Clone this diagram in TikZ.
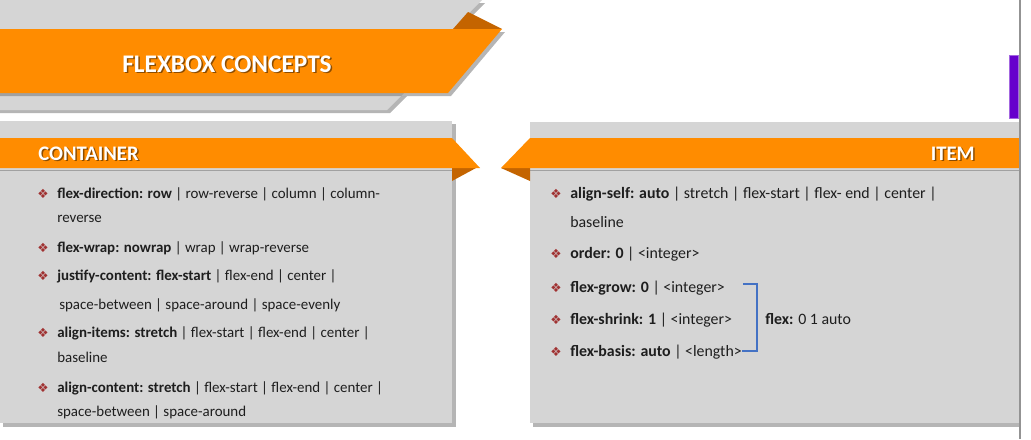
\documentclass[tikz,border=0pt]{standalone}
\usepackage{fontspec}
\setmainfont{Carlito}
\newfontfamily\symfont{DejaVu Sans}
\usepackage{xcolor}
\usepackage{tikz}
\usetikzlibrary{arrows}

\definecolor{ribbon}{RGB}{255,140,0}
\definecolor{ribbonfold}{RGB}{196,100,0}
\definecolor{panel}{RGB}{213,213,213}
\definecolor{shade}{RGB}{120,120,120}
\definecolor{ink}{RGB}{30,30,30}
\definecolor{diamond}{RGB}{160,50,50}
\definecolor{bracket}{RGB}{68,114,196}
\definecolor{violet}{RGB}{102,0,204}

\begin{document}
\begin{tikzpicture}[x=0.75pt,y=0.75pt,yscale=-1,xscale=1,
   body/.style={anchor=base west,inner sep=0pt,text=ink,font=\fontsize{11.2}{13}\selectfont},
   itembody/.style={body,font=\fontsize{11.9}{14}\selectfont},
   bullet/.style={anchor=base,inner sep=0pt,text=diamond,font=\symfont\fontsize{9.5}{11}\selectfont},
   head/.style={inner sep=0pt,text=white,font=\bfseries\fontsize{15.5}{18}\selectfont},
   headshade/.style={inner sep=0pt,text=black,opacity=0.45,font=\bfseries\fontsize{15.5}{18}\selectfont},
   shadow/.style={fill=shade,opacity=0.55,draw=none}]
   \useasboundingbox (0,0) rectangle (1031,439);

   %Shape: back strips of the title
   \fill [shadow] (0,3) -- (485,3) -- (456,32) -- (0,32) -- cycle ;
   \fill [panel] (0,0) -- (482,0) -- (453,29) -- (0,29) -- cycle ;
   \fill [shadow] (0,96) -- (407,96) -- (390,113) -- (0,113) -- cycle ;
   \fill [panel] (0,93) -- (404,93) -- (387,110) -- (0,110) -- cycle ;
   %Shape: title ribbon
   \fill [ribbonfold] (453,29) -- (468,12) -- (502,29) -- cycle ;
   \fill [shadow] (0,32) -- (505,32) -- (451,96) -- (0,96) -- cycle ;
   \fill [ribbon] (0,29) -- (502,29) -- (448,93) -- (0,93) -- cycle ;

   % Text Node
   \node [headshade,font=\bfseries\fontsize{19}{22}\selectfont,anchor=base] at (228.5,73.5) {FLEXBOX CONCEPTS};
   \node (title) [head,font=\bfseries\fontsize{19}{22}\selectfont,anchor=base] at (227,72) {FLEXBOX CONCEPTS};

   %Shape: container panel
   \fill [shadow] (3,124) rectangle (456,427) ;
   \fill [panel] (0,121) rectangle (452,423) ;
   \fill [ribbonfold] (452,168) -- (476,168) -- (452,181) -- cycle ;
   \fill [shadow] (0,170) rectangle (452,171) ;
   \fill [ribbon] (0,138) -- (452,138) -- (480,168) -- (0,168) -- cycle ;

   %Shape: item panel
   \fill [shadow] (533,125) rectangle (1019,427) ;
   \fill [panel] (530,122) rectangle (1019,423) ;
   \fill [ribbonfold] (501,168) -- (530,168) -- (530,181) -- cycle ;
   \fill [shadow] (530,170) rectangle (1019,171) ;
   \fill [ribbon] (530,138) -- (1019,138) -- (1019,168) -- (501,168) -- cycle ;

   %Straight Lines: frame edge and marker
   \draw [color=shade!80,line width=1.5] (1019.5,0) -- (1019.5,439) ;
   \draw [fill=violet,draw=violet!60,line width=0.75] (1009,55) rectangle (1018.5,118) ;

   % Text Node
   \node [headshade,anchor=base west] at (39.5,161.5) {CONTAINER};
   \node (cont) [head,anchor=base west] at (38,160) {CONTAINER};
   \node [headshade,anchor=base east] at (976.5,161.5) {ITEM};
   \node (item) [head,anchor=base east] at (975,160) {ITEM};

   % Bullets
   \foreach \y [count=\i] in {198,252,280,337,392}
      \node (lb\i) [bullet] at (43,\y) {❖};
   \foreach \y [count=\i] in {198,258,292,324,356}
      \node (rb\i) [bullet] at (556,\y) {❖};

   % Text Node
   \node (cdir) [body] at (57,198) {\textbf{flex-direction: row} | row-reverse | column | column-};
   \node (cdirb) [body] at (57,222) {reverse};
   \node (cwrap) [body] at (57,252) {\textbf{flex-wrap: nowrap} | wrap | wrap-reverse};
   \node (cjust) [body] at (57,280) {\textbf{justify-content: flex-start} | flex-end | center |};
   \node (cjustb) [body] at (59,309) {space-between | space-around | space-evenly};
   \node (citems) [body] at (57,337) {\textbf{align-items: stretch} | flex-start | flex-end | center |};
   \node (citemsb) [body] at (57,362) {baseline};
   \node (ccont) [body] at (57,392) {\textbf{align-content: stretch} | flex-start | flex-end | center |};
   \node (ccontb) [body] at (57,416) {space-between | space-around};

   % Text Node
   \node (ialign) [itembody] at (570,198) {\textbf{align-self: auto} | stretch | flex-start | flex- end | center |};
   \node (ialignb) [itembody] at (570,227) {baseline};
   \node (iorder) [itembody] at (570,258) {\textbf{order: 0} | <integer>};
   \node (igrow) [itembody] at (570,292) {\textbf{flex-grow: 0} | <integer>};
   \node (ishrink) [itembody] at (570,324) {\textbf{flex-shrink: 1} | <integer>};
   \node (ibasis) [itembody] at (570,356) {\textbf{flex-basis: auto} | <length>};
   \node (iflex) [itembody] at (765,324) {\textbf{flex:} 0 1 auto};

   %Straight Lines: bracket
   \coordinate (brtop) at (743,284);
   \coordinate (brbot) at (742,351);
   \draw [color=bracket,line width=1.5] (brtop) -- ++(14,0) |- (brbot) ;

\end{tikzpicture}
\end{document}
